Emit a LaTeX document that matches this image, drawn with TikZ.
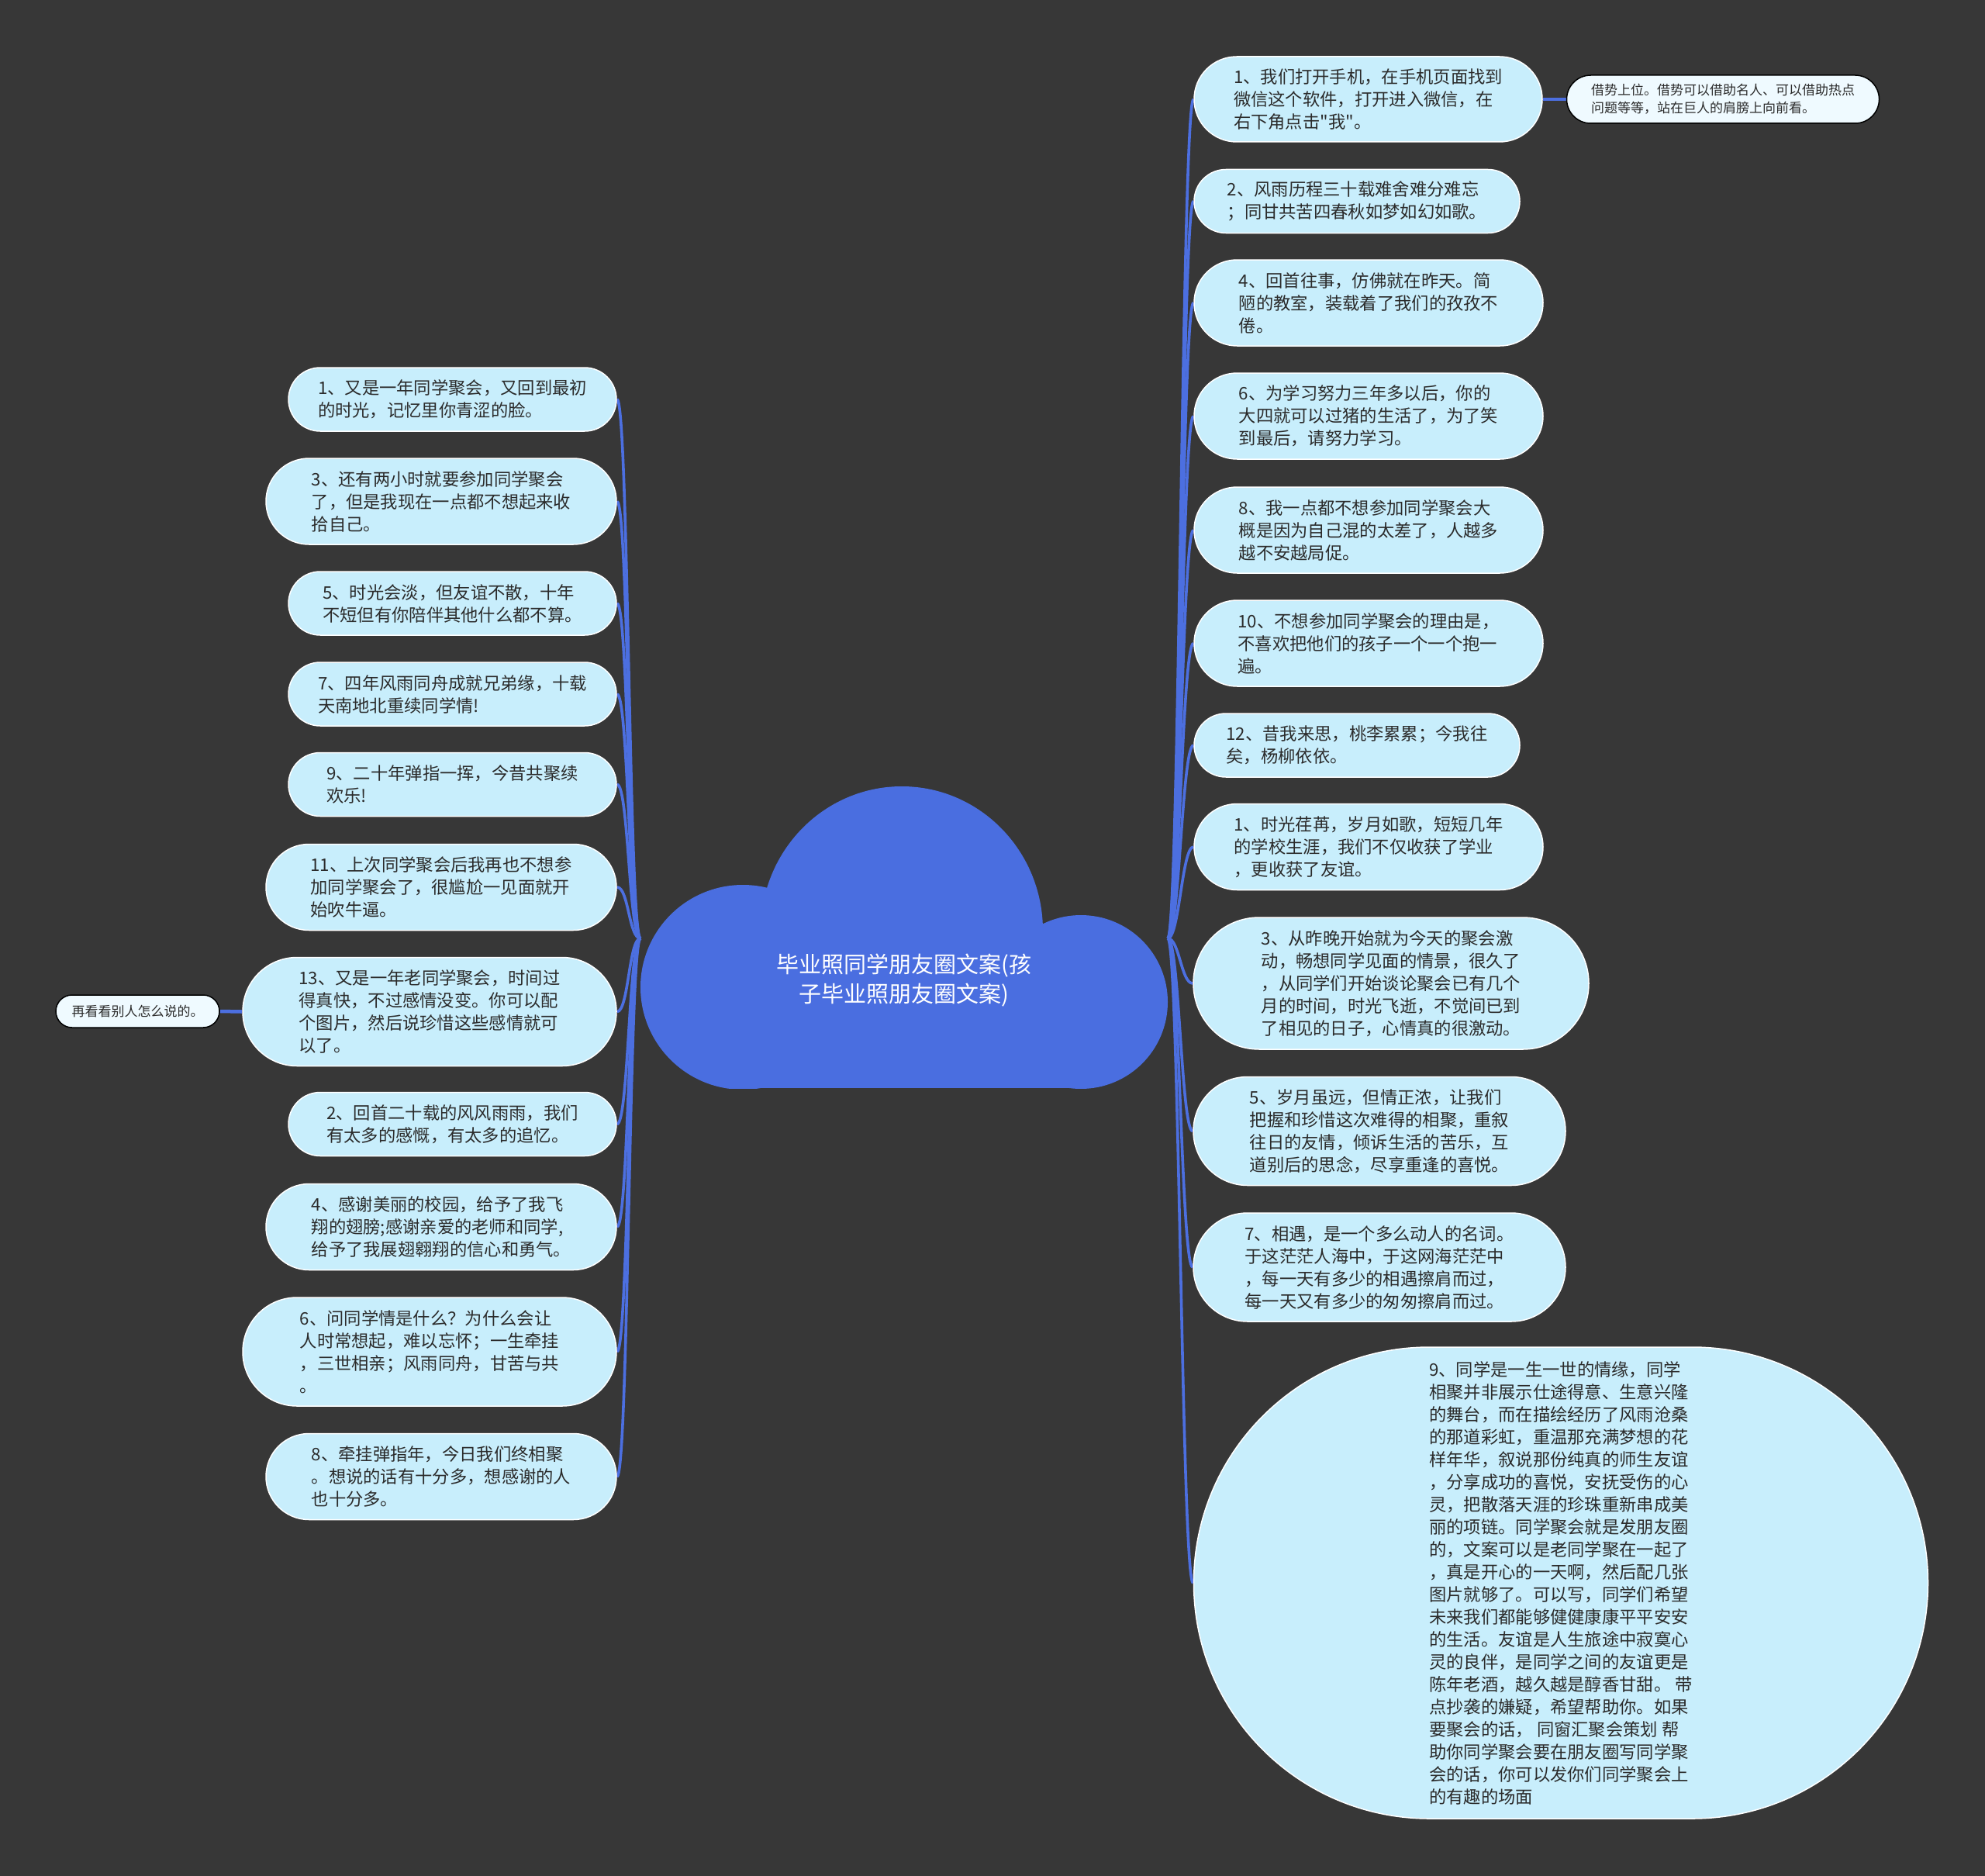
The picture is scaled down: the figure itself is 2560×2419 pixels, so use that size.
\documentclass[tikz,border=0pt]{standalone}
\usepackage{fontspec}
\setmainfont{Noto Sans CJK SC}[Ligatures=TeXOff]
\definecolor{bg}{HTML}{373737}
\definecolor{cloudc}{HTML}{4A6EE0}
\definecolor{linkc}{HTML}{4C6FE0}
\definecolor{pillfill}{HTML}{C8EEFC}
\definecolor{txt}{HTML}{2B2B2B}
\definecolor{leaffill}{HTML}{EFFAFF}
\pgfdeclarelayer{back}
\pgfdeclarelayer{links}
\pgfsetlayers{back,links,main}
\tikzset{
  pill/.style={rectangle, fill=pillfill, draw=white, line width=1.5pt, text=txt,
    align=left, inner sep=0pt, font=\fontsize{22.3pt}{29pt}\selectfont},
  pillA/.style={pill, minimum width=423pt, minimum height=82pt, rounded corners=41pt},
  pillB/.style={pill, minimum width=452pt, minimum height=111pt, rounded corners=55.5pt},
  pillC/.style={pill, minimum width=482pt, minimum height=140pt, rounded corners=70pt},
  pillR/.style={pill, minimum width=450pt, minimum height=111pt, rounded corners=55.5pt},
  pillRs/.style={pill, minimum width=420pt, minimum height=82pt, rounded corners=41pt},
  pillRm/.style={pill, minimum width=480pt, minimum height=140pt, rounded corners=70pt},
  leafbox/.style={rectangle, fill=leaffill, draw=black, line width=1.5pt, text=txt,
    align=left, inner sep=0pt, font=\fontsize{17pt}{23pt}\selectfont},
  linkline/.style={draw=linkc, line width=3.6pt},
}
\newcommand{\lft}[1]{\draw[linkline] (rootL) .. controls +(-15,0) and +(15,0) .. (#1.east);}
\newcommand{\rgt}[1]{\draw[linkline] (rootR) .. controls +(15,0) and +(-15,0) .. (#1.west);}
\begin{document}
\begin{tikzpicture}[x=1pt, y=-1pt]
\useasboundingbox (0,0) rectangle (2560,2419);
\begin{pgfonlayer}{back}
\fill[bg] (0,0) rectangle (2560,2419);
\end{pgfonlayer}

\coordinate (rootL) at (826,1210);
\coordinate (rootR) at (1506,1210);

% ---------- right side ----------
\node[pill, minimum width=449pt, minimum height=110pt, rounded corners=55pt] (R1) at (1764.5,128) {1、我们打开手机，在手机页面找到\\微信这个软件，打开进入微信，在\\右下角点击"我"。};
\node[leafbox, minimum width=403pt, minimum height=62pt, rounded corners=31pt] (R1c) at (2222,128) {借势上位。借势可以借助名人、可以借助热点\\问题等等，站在巨人的肩膀上向前看。};
\node[pillRs] (R2) at (1750,259.5) {2、风雨历程三十载难舍难分难忘\\；同甘共苦四春秋如梦如幻如歌。};
\node[pillR] (R4) at (1765,390.5) {4、回首往事，仿佛就在昨天。简\\陋的教室，装载着了我们的孜孜不\\倦。};
\node[pillR] (R6) at (1765,536.5) {6、为学习努力三年多以后，你的\\大四就可以过猪的生活了，为了笑\\到最后，请努力学习。};
\node[pillR] (R8) at (1765,683.5) {8、我一点都不想参加同学聚会大\\概是因为自己混的太差了，人越多\\越不安越局促。};
\node[pillR] (R10) at (1765,829.5) {10、不想参加同学聚会的理由是，\\不喜欢把他们的孩子一个一个抱一\\遍。};
\node[pillRs] (R12) at (1750,961) {12、昔我来思，桃李累累；今我往\\矣，杨柳依依。};
\node[pillR] (R1b) at (1765,1092) {1、时光荏苒，岁月如歌，短短几年\\的学校生涯，我们不仅收获了学业\\，更收获了友谊。};
\node[pill, minimum width=510pt, minimum height=170pt, rounded corners=85pt] (R3) at (1794,1268) {3、从昨晚开始就为今天的聚会激\\动，畅想同学见面的情景，很久了\\，从同学们开始谈论聚会已有几个\\月的时间，时光飞逝，不觉间已到\\了相见的日子，心情真的很激动。};
\node[pillRm] (R5) at (1779,1458.5) {5、岁月虽远，但情正浓，让我们\\把握和珍惜这次难得的相聚，重叙\\往日的友情，倾诉生活的苦乐，互\\道别后的思念，尽享重逢的喜悦。};
\node[pillRm] (R7) at (1779,1634) {7、相遇，是一个多么动人的名词。\\于这茫茫人海中，于这网海茫茫中\\，每一天有多少的相遇擦肩而过，\\每一天又有多少的匆匆擦肩而过。};
\node[pill, minimum width=947pt, minimum height=608pt, rounded corners=304pt] (R9) at (2013,2041) {9、同学是一生一世的情缘，同学\\相聚并非展示仕途得意、生意兴隆\\的舞台，而在描绘经历了风雨沧桑\\的那道彩虹，重温那充满梦想的花\\样年华，叙说那份纯真的师生友谊\\，分享成功的喜悦，安抚受伤的心\\灵，把散落天涯的珍珠重新串成美\\丽的项链。同学聚会就是发朋友圈\\的，文案可以是老同学聚在一起了\\，真是开心的一天啊，然后配几张\\图片就够了。可以写，同学们希望\\未来我们都能够健健康康平平安安\\的生活。友谊是人生旅途中寂寞心\\灵的良伴，是同学之间的友谊更是\\陈年老酒，越久越是醇香甘甜。 带\\点抄袭的嫌疑，希望帮助你。如果\\要聚会的话， 同窗汇聚会策划 帮\\助你同学聚会要在朋友圈写同学聚\\会的话，你可以发你们同学聚会上\\的有趣的场面};

% ---------- left side ----------
\node[pillA] (L1) at (583.5,515) {1、又是一年同学聚会，又回到最初\\的时光，记忆里你青涩的脸。};
\node[pillB] (L3) at (569,646.5) {3、还有两小时就要参加同学聚会\\了，但是我现在一点都不想起来收\\拾自己。};
\node[pillA] (L5) at (583.5,778) {5、时光会淡，但友谊不散，十年\\不短但有你陪伴其他什么都不算。};
\node[pillA] (L7) at (583.5,895) {7、四年风雨同舟成就兄弟缘，十载\\天南地北重续同学情!};
\node[pillA] (L9) at (583.5,1011.5) {9、二十年弹指一挥，今昔共聚续\\欢乐!};
\node[pillB] (L11) at (569,1144) {11、上次同学聚会后我再也不想参\\加同学聚会了，很尴尬一见面就开\\始吹牛逼。};
\node[pillC] (L13) at (554,1304.5) {13、又是一年老同学聚会，时间过\\得真快，不过感情没变。你可以配\\个图片，然后说珍惜这些感情就可\\以了。};
\node[leafbox, minimum width=211pt, minimum height=42pt, rounded corners=21pt] (L13c) at (177.5,1304) {再看看别人怎么说的。};
\node[pillA] (L2) at (583.5,1449.5) {2、回首二十载的风风雨雨，我们\\有太多的感慨，有太多的追忆。};
\node[pillB] (L4) at (569,1582) {4、感谢美丽的校园，给予了我飞\\翔的翅膀;感谢亲爱的老师和同学,\\给予了我展翅翱翔的信心和勇气。};
\node[pillC] (L6) at (554,1743) {6、问同学情是什么？为什么会让\\人时常想起，难以忘怀；一生牵挂\\，三世相亲；风雨同舟，甘苦与共\\。};
\node[pillB] (L8) at (569,1904) {8、牵挂弹指年，今日我们终相聚\\。想说的话有十分多，想感谢的人\\也十分多。};

% ---------- connectors (behind nodes) ----------
\begin{pgfonlayer}{links}
\lft{L1}\lft{L3}\lft{L5}\lft{L7}\lft{L9}\lft{L11}\lft{L13}\lft{L2}\lft{L4}\lft{L6}\lft{L8}
\rgt{R1}\rgt{R2}\rgt{R4}\rgt{R6}\rgt{R8}\rgt{R10}\rgt{R12}\rgt{R1b}\rgt{R3}\rgt{R5}\rgt{R7}\rgt{R9}
\draw[linkline, line width=4.5pt] (L13.west) -- (L13c.east);
\draw[linkline, line width=4.5pt] (R1.east) -- (R1c.west);
\end{pgfonlayer}

% ---------- cloud ----------
\begin{scope}
  \clip (800,990) rectangle (1530,1403);
  \fill[cloudc] (1163,1200) ellipse [x radius=182, y radius=186];
  \fill[cloudc] (958,1273) circle [radius=132];
  \fill[cloudc] (1394,1292) circle [radius=112];
  \fill[cloudc] (956,1200) rectangle (1396,1403);
\end{scope}
\node[text=white, align=center, inner sep=0pt, font=\fontsize{29pt}{38pt}\selectfont] (root) at (1166,1264) {毕业照同学朋友圈文案(孩\\子毕业照朋友圈文案)};

\end{tikzpicture}
\end{document}
